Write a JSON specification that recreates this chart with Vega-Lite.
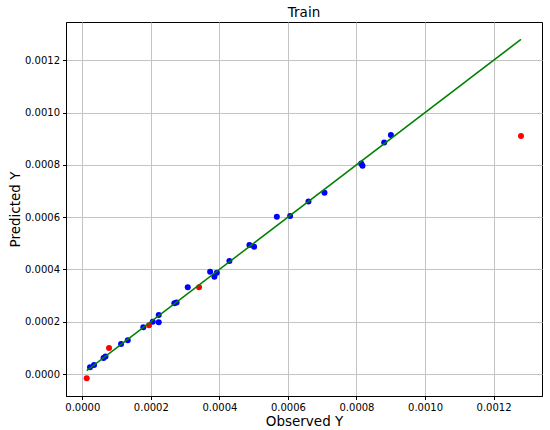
{
  "$schema": "https://vega.github.io/schema/vega-lite/v6.json",
  "autosize": {"type": "none"},
  "width": 476,
  "height": 374,
  "padding": {"left": 66, "top": 22, "right": 8, "bottom": 34},
  "background": "white",
  "title": {"text": "Train", "font": "DejaVu Sans", "fontSize": 13.5, "fontWeight": "normal", "color": "black", "offset": 3},
  "config": {
    "view": {"stroke": "black", "strokeWidth": 1},
    "axis": {
      "labelFont": "DejaVu Sans", "labelFontSize": 10, "labelColor": "black",
      "titleFont": "DejaVu Sans", "titleFontSize": 13.5, "titleFontWeight": "normal", "titleColor": "black",
      "domainColor": "black", "tickColor": "black", "tickSize": 3.5,
      "gridColor": "#c4c4c4", "gridWidth": 1, "labelPadding": 3
    }
  },
  "datasets": {
    "pts": [
      {"obs": 0.0000225, "pred": 0.0000256, "kind": "main"},
      {"obs": 0.0000342, "pred": 0.0000344, "kind": "main"},
      {"obs": 0.0000619, "pred": 0.0000611, "kind": "main"},
      {"obs": 0.0000677, "pred": 0.0000669, "kind": "main"},
      {"obs": 0.000113, "pred": 0.0001147, "kind": "main"},
      {"obs": 0.0001326, "pred": 0.0001288, "kind": "main"},
      {"obs": 0.000178, "pred": 0.0001785, "kind": "main"},
      {"obs": 0.0002055, "pred": 0.0001999, "kind": "main"},
      {"obs": 0.000223, "pred": 0.0002255, "kind": "main"},
      {"obs": 0.000223, "pred": 0.0001976, "kind": "main"},
      {"obs": 0.0002686, "pred": 0.0002702, "kind": "main"},
      {"obs": 0.000275, "pred": 0.000274, "kind": "main"},
      {"obs": 0.0003077, "pred": 0.0003314, "kind": "main"},
      {"obs": 0.0003729, "pred": 0.000391, "kind": "main"},
      {"obs": 0.0003854, "pred": 0.0003719, "kind": "main"},
      {"obs": 0.0003924, "pred": 0.0003872, "kind": "main"},
      {"obs": 0.0004292, "pred": 0.0004319, "kind": "main"},
      {"obs": 0.0004876, "pred": 0.000493, "kind": "main"},
      {"obs": 0.0005013, "pred": 0.0004865, "kind": "main"},
      {"obs": 0.0005676, "pred": 0.0006012, "kind": "main"},
      {"obs": 0.0006064, "pred": 0.0006039, "kind": "main"},
      {"obs": 0.0006599, "pred": 0.00066, "kind": "main"},
      {"obs": 0.0007066, "pred": 0.0006929, "kind": "main"},
      {"obs": 0.0008137, "pred": 0.0008053, "kind": "main"},
      {"obs": 0.0008175, "pred": 0.0007961, "kind": "main"},
      {"obs": 0.0008809, "pred": 0.0008855, "kind": "main"},
      {"obs": 0.0009004, "pred": 0.0009146, "kind": "main"},
      {"obs": 0.0000128, "pred": -0.0000164, "kind": "other"},
      {"obs": 0.000078, "pred": 0.0000994, "kind": "other"},
      {"obs": 0.0001947, "pred": 0.0001861, "kind": "other"},
      {"obs": 0.0003407, "pred": 0.0003314, "kind": "other"},
      {"obs": 0.00128, "pred": 0.00091, "kind": "other"}
    ],
    "ideal": [
      {"obs": 0.0000128, "pred": 0.0000128},
      {"obs": 0.00128, "pred": 0.00128}
    ]
  },
  "encoding": {
    "x": {
      "field": "obs", "type": "quantitative",
      "scale": {"domain": [-0.0000476, 0.0013413], "nice": false, "zero": false},
      "axis": {"title": "Observed Y", "values": [0, 0.0002, 0.0004, 0.0006, 0.0008, 0.001, 0.0012], "format": ".4f", "titlePadding": 2}
    },
    "y": {
      "field": "pred", "type": "quantitative",
      "scale": {"domain": [-0.0000841, 0.0013464], "nice": false, "zero": false},
      "axis": {"title": "Predicted Y", "values": [0, 0.0002, 0.0004, 0.0006, 0.0008, 0.001, 0.0012], "format": ".4f", "titlePadding": 2}
    }
  },
  "layer": [
    {
      "data": {"name": "pts"},
      "mark": {"type": "circle", "size": 36, "opacity": 1},
      "encoding": {
        "color": {"field": "kind", "type": "nominal", "scale": {"domain": ["main", "other"], "range": ["#0000ff", "#ff0000"]}, "legend": null}
      }
    },
    {
      "data": {"name": "ideal"},
      "mark": {"type": "line", "color": "#008000", "strokeWidth": 1.5},
      "encoding": {}
    }
  ]
}
